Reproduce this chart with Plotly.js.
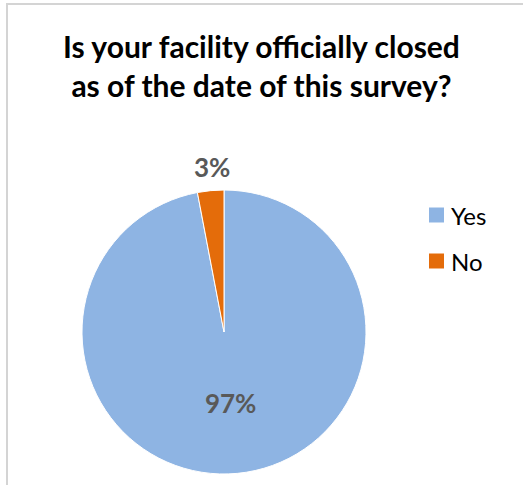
<!DOCTYPE html>
<html>
<head>
<meta charset="utf-8">
<script src="https://cdn.plot.ly/plotly-3.0.1.min.js"></script>
<style>
  html, body { margin: 0; padding: 0; background: #fff; }
  #wrap { position: absolute; left: 0; top: 0; width: 523px; height: 485px; overflow: hidden; }
  #frame { position: absolute; left: 6px; top: 3px; width: 600px; height: 600px; border-left: 2px solid #d4d4d4; border-top: 2px solid #d4d4d4; }
  #chart { position: absolute; left: 0; top: 0; width: 523px; height: 485px; }
</style>
</head>
<body>
<div id="wrap">
  <div id="frame"></div>
  <div id="chart"></div>
</div>
<script>
const titleText = "Is your facility officially closed<br>as of the date of this survey?";
const categories = ["Yes", "No"];
const values = [97, 3];
const sliceColors = ["#8EB4E3", "#E46C0A"];

const W = 523, H = 485;
const cx = 224, cy = 332, r = 142;
const FONT = "Lato, 'Open Sans', sans-serif";

const total = values.reduce((a, b) => a + b, 0);

const trace = {
  type: "pie",
  labels: categories,
  values: values,
  sort: false,
  direction: "clockwise",
  rotation: 0,
  marker: { colors: sliceColors, line: { color: "#ffffff", width: 1 } },
  textinfo: "percent",
  texttemplate: "%{percent:.0%}",
  textposition: ["inside", "none"],
  insidetextorientation: "horizontal",
  textfont: { family: FONT, size: 26, color: "#595959", weight: "bold" },
  hoverinfo: "label+percent",
  showlegend: false,
  domain: {
    x: [(cx - r) / W, (cx + r) / W],
    y: [(H - cy - r) / H, (H - cy + r) / H]
  },
  automargin: false
};

// Custom legend (square swatch + label), built from categories and colours
const legX = 429, legY0 = 215, legStep = 46, sw = 15;
const shapes = [];
const annotations = [];
categories.forEach((c, i) => {
  const yc = legY0 + i * legStep;
  shapes.push({
    type: "rect", xref: "paper", yref: "paper",
    x0: legX / W, x1: (legX + sw) / W,
    y0: 1 - (yc + sw / 2) / H, y1: 1 - (yc - sw / 2) / H,
    fillcolor: sliceColors[i], line: { width: 0 }
  });
  annotations.push({
    xref: "paper", yref: "paper",
    x: (legX + sw + 5) / W, y: 1 - yc / H,
    xanchor: "left", yanchor: "middle",
    text: c, showarrow: false,
    font: { family: FONT, size: 24, color: "#000000" }
  });
});

// Outside label for the small slice
annotations.push({
  xref: "paper", yref: "paper",
  x: 212 / W, y: 1 - 167 / H,
  xanchor: "center", yanchor: "middle",
  text: Math.round(values[1] / total * 100) + "%",
  showarrow: false,
  font: { family: FONT, size: 26, color: "#595959", weight: "bold" }
});

const layout = {
  width: W,
  height: H,
  margin: { l: 0, r: 0, t: 0, b: 0 },
  paper_bgcolor: "rgba(0,0,0,0)",
  plot_bgcolor: "rgba(0,0,0,0)",
  title: {
    text: titleText,
    font: { family: FONT, size: 30, color: "#000000", weight: "bold" },
    x: 0.5,
    xanchor: "center",
    xref: "container",
    y: 1 - 58 / H,
    yanchor: "top",
    yref: "container"
  },
  showlegend: false,
  shapes: shapes,
  annotations: annotations
};

Plotly.newPlot("chart", [trace], layout, { displayModeBar: false, staticPlot: true });
</script>
</body>
</html>
